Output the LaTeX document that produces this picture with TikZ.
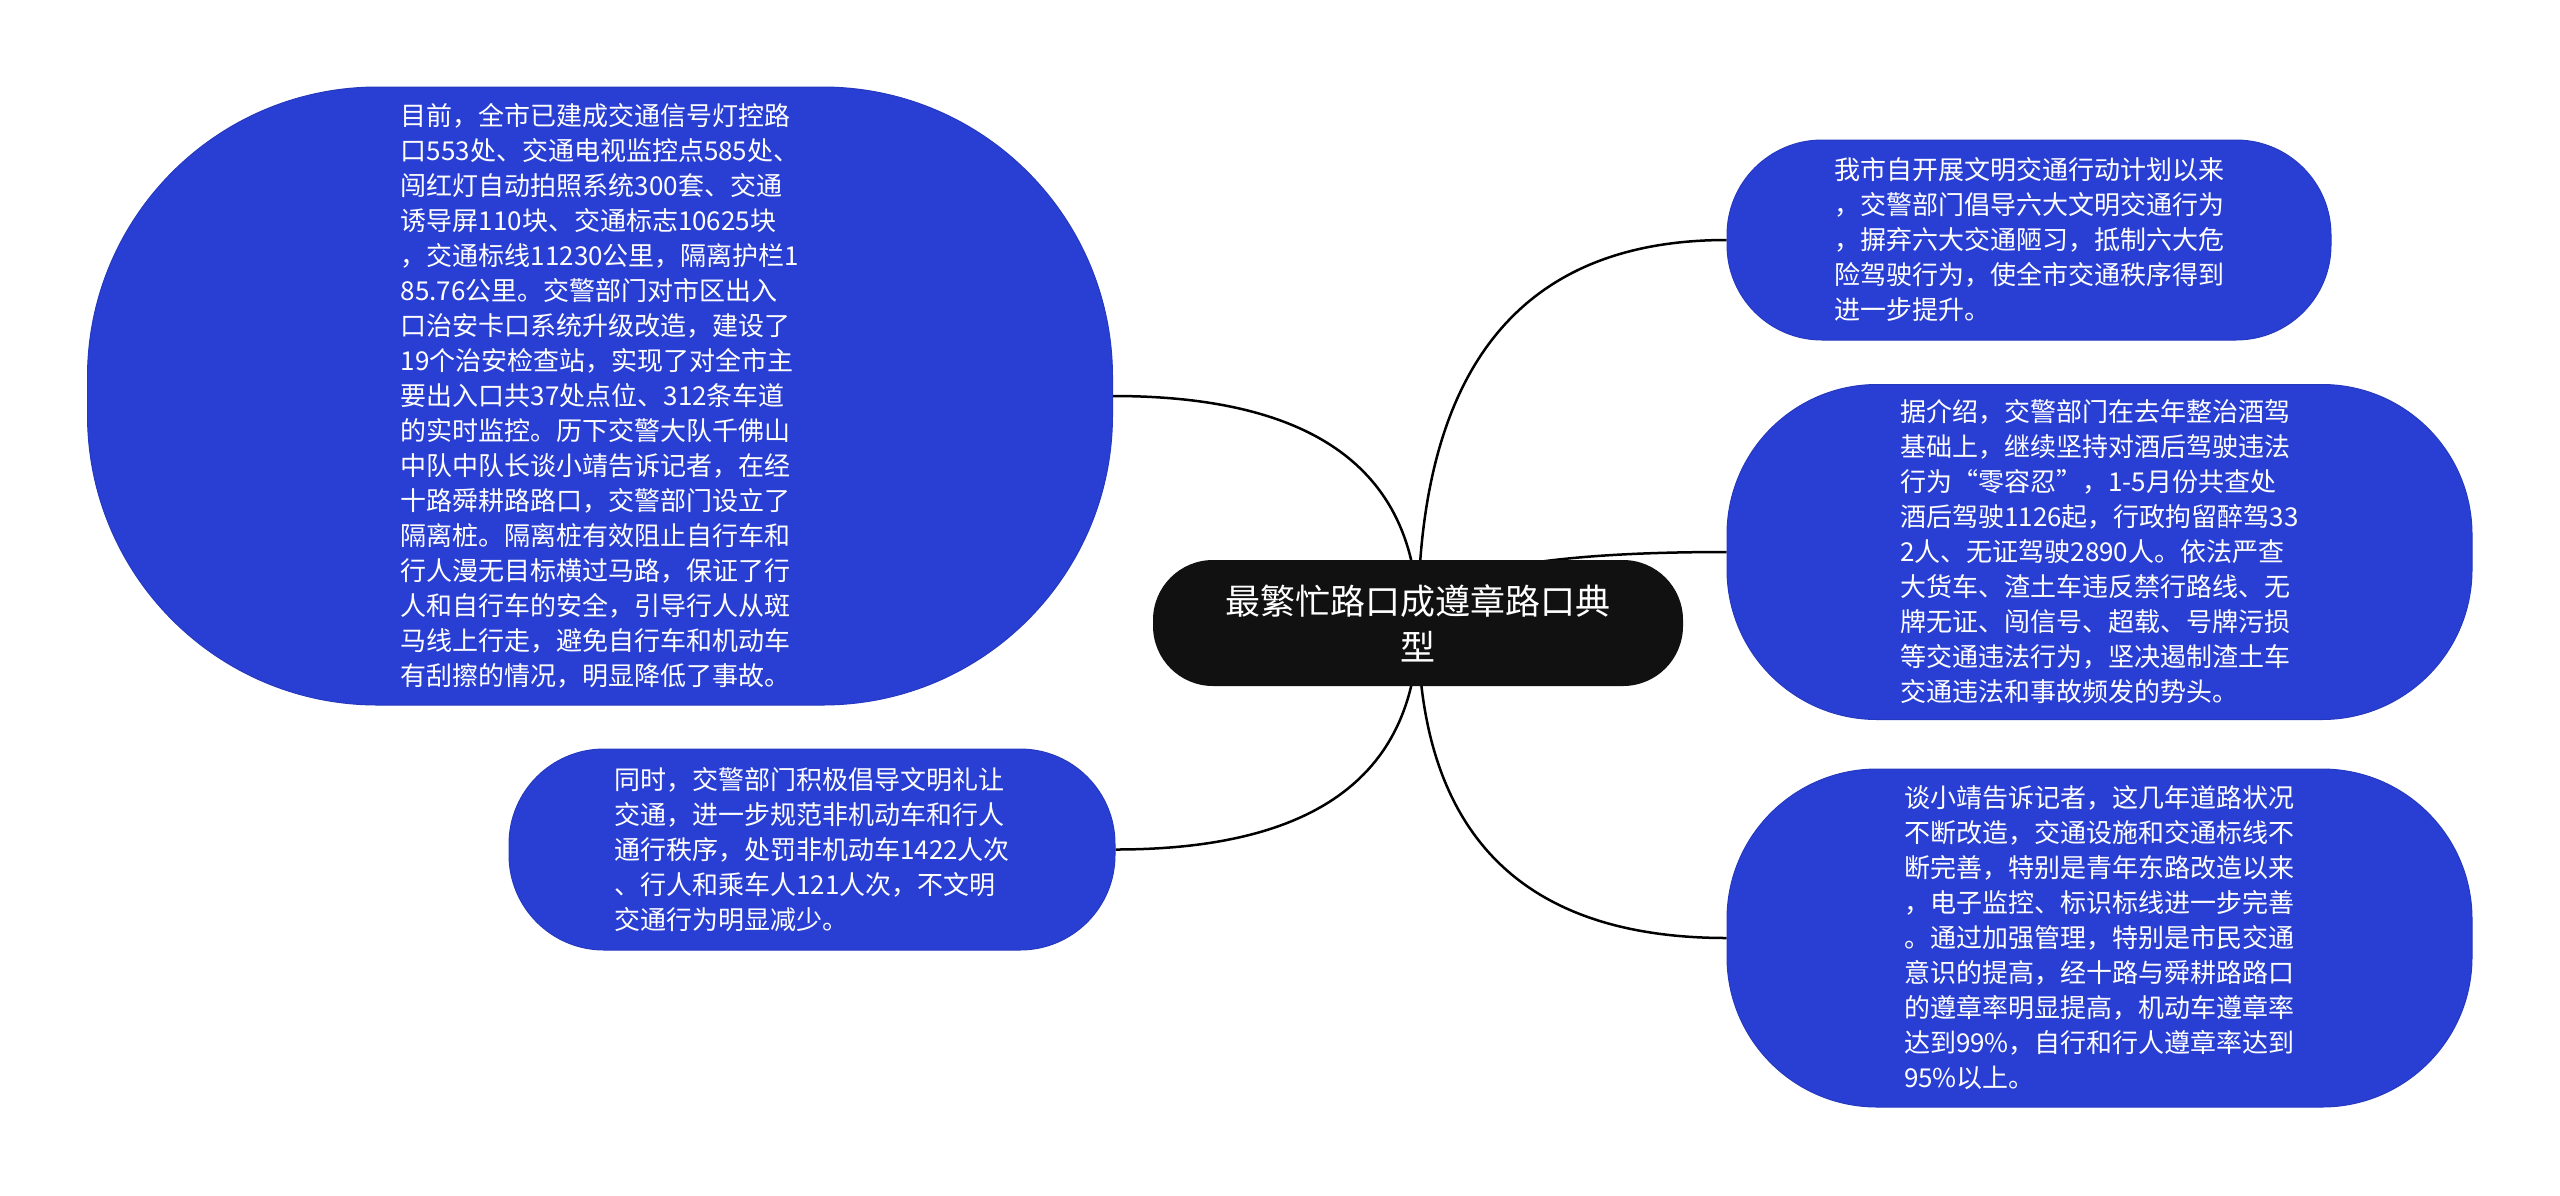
\documentclass[tikz,border=0pt]{standalone}
\usepackage{fontspec}
\newfontfamily\cjk{Noto Sans CJK SC}
\usetikzlibrary{calc,backgrounds}
\pgfdeclarelayer{canvas}
\pgfsetlayers{canvas,background,main}
\definecolor{nblue}{RGB}{41,63,212}
\definecolor{cblack}{RGB}{17,17,17}
\begin{document}
\begin{tikzpicture}[x=1pt,y=-1pt,
  bnode/.style={fill=nblue, draw=nblue!90!black, line width=1pt, rounded corners=#1, text=white, align=left, font=\cjk\fontsize{26}{35}\selectfont, inner sep=0pt},
  cnode/.style={fill=cblack, rounded corners=60pt, text=white, align=center, font=\cjk\fontsize{35}{46}\selectfont, inner sep=0pt, minimum width=530pt, minimum height=126pt},
  link/.style={draw=black, line width=2.5pt}]
\begin{pgfonlayer}{canvas}
\fill[white] (0,0) rectangle (2560,1195);
\end{pgfonlayer}
\useasboundingbox (0,0) rectangle (2560,1195);

\node[cnode] (c) at (1418,623) {最繁忙路口成遵章路口典\\型};

\node[bnode=290pt, minimum width=1025pt, minimum height=618pt] (l) at (600,396) {目前，全市已建成交通信号灯控路\\口553处、交通电视监控点585处、\\闯红灯自动拍照系统300套、交通\\诱导屏110块、交通标志10625块\\，交通标线11230公里，隔离护栏1\\85.76公里。交警部门对市区出入\\口治安卡口系统升级改造，建设了\\19个治安检查站，实现了对全市主\\要出入口共37处点位、312条车道\\的实时监控。历下交警大队千佛山\\中队中队长谈小靖告诉记者，在经\\十路舜耕路路口，交警部门设立了\\隔离桩。隔离桩有效阻止自行车和\\行人漫无目标横过马路，保证了行\\人和自行车的安全，引导行人从斑\\马线上行走，避免自行车和机动车\\有刮擦的情况，明显降低了事故。};

\node[bnode=95pt, minimum width=606pt, minimum height=201pt] (bl) at (812,849.5) {同时，交警部门积极倡导文明礼让\\交通，进一步规范非机动车和行人\\通行秩序，处罚非机动车1422人次\\、行人和乘车人121人次，不文明\\交通行为明显减少。};

\node[bnode=95pt, minimum width=604pt, minimum height=200pt] (rt) at (2029,240) {我市自开展文明交通行动计划以来\\，交警部门倡导六大文明交通行为\\，摒弃六大交通陋习，抵制六大危\\险驾驶行为，使全市交通秩序得到\\进一步提升。};

\node[bnode=150pt, minimum width=745pt, minimum height=335pt] (rm) at (2099.5,552) {据介绍，交警部门在去年整治酒驾\\基础上，继续坚持对酒后驾驶违法\\行为“零容忍”，1-5月份共查处\\酒后驾驶1126起，行政拘留醉驾33\\2人、无证驾驶2890人。依法严查\\大货车、渣土车违反禁行路线、无\\牌无证、闯信号、超载、号牌污损\\等交通违法行为，坚决遏制渣土车\\交通违法和事故频发的势头。};

\node[bnode=150pt, minimum width=745pt, minimum height=338pt] (rb) at (2099.5,938) {谈小靖告诉记者，这几年道路状况\\不断改造，交通设施和交通标线不\\断完善，特别是青年东路改造以来\\，电子监控、标识标线进一步完善\\。通过加强管理，特别是市民交通\\意识的提高，经十路与舜耕路路口\\的遵章率明显提高，机动车遵章率\\达到99\%，自行和行人遵章率达到\\95\%以上。};

\begin{pgfonlayer}{background}
\foreach \t/\a in {l/east, bl/east, rt/west, rm/west, rb/west}{
  \draw[link] (c.center) .. controls ($(c.center)!2/3!(c.center |- \t.\a)$) and ($(\t.\a)!2/3!(c.center |- \t.\a)$) .. (\t.\a);
}
\end{pgfonlayer}
\end{tikzpicture}
\end{document}
